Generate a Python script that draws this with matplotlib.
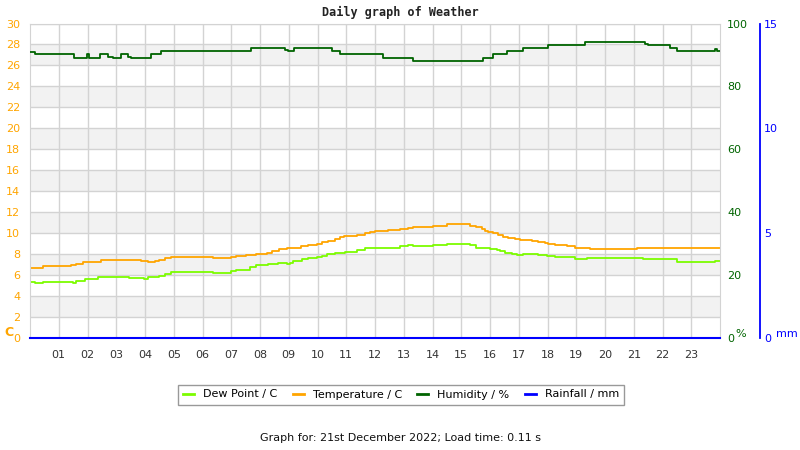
import matplotlib
matplotlib.use("Agg")
import matplotlib.pyplot as plt

# ---------------- data ----------------
temp_hours = [0.00, 0.45, 1.41, 1.61, 1.84, 2.48, 2.89, 3.87, 4.10, 4.34, 4.50, 4.68, 4.89,
              6.37, 7.00, 7.18, 7.52, 7.87, 8.23, 8.41, 8.66, 8.93, 9.04, 9.43, 9.68, 9.97,
              10.14, 10.38, 10.61, 10.78, 10.93, 11.36, 11.65, 11.83, 12.00, 12.46, 12.87,
              13.16, 13.33, 14.03, 14.49, 15.30, 15.53, 15.71, 15.83, 15.94, 16.12, 16.29,
              16.46, 16.64, 16.87, 17.05, 17.45, 17.68, 17.91, 18.03, 18.26, 18.67, 18.96,
              19.30, 19.48, 21.10, 21.33, 24.00]
temp_c = [6.70, 6.83, 6.95, 7.10, 7.24, 7.43, 7.46, 7.33, 7.24, 7.35, 7.47, 7.60, 7.69,
          7.62, 7.69, 7.80, 7.90, 8.03, 8.12, 8.29, 8.45, 8.54, 8.63, 8.73, 8.86, 8.95,
          9.11, 9.27, 9.49, 9.65, 9.74, 9.87, 10.00, 10.12, 10.19, 10.29, 10.44,
          10.50, 10.63, 10.73, 10.83, 10.73, 10.57, 10.40, 10.25, 10.12, 9.97, 9.81,
          9.68, 9.55, 9.43, 9.33, 9.24, 9.17, 9.05, 8.95, 8.86, 8.73, 8.63,
          8.54, 8.48, 8.54, 8.63, 8.63]

dew_hours = [0.00, 0.16, 0.45, 1.41, 1.49, 1.61, 1.90, 2.36, 2.48, 3.00, 3.46, 3.98, 4.12,
             4.50, 4.68, 4.89, 6.37, 7.00, 7.18, 7.64, 7.87, 8.00, 8.29, 8.64, 8.93, 9.04,
             9.16, 9.45, 9.68, 9.97, 10.14, 10.32, 10.61, 10.78, 10.96, 11.36, 11.65, 11.94,
             12.23, 12.46, 12.87, 13.16, 13.33, 14.03, 14.49, 15.30, 15.53, 15.83, 16.00,
             16.23, 16.35, 16.52, 16.75, 16.93, 17.16, 17.68, 17.97, 18.26, 18.96, 19.36,
             21.10, 21.33, 21.62, 22.26, 22.49, 23.83, 24.00]
dew_c = [5.30, 5.20, 5.30, 5.36, 5.20, 5.43, 5.62, 5.78, 5.84, 5.78, 5.71, 5.62, 5.78,
         5.94, 6.10, 6.32, 6.16, 6.35, 6.48, 6.76, 6.92, 6.95, 7.08, 7.17, 7.10, 7.20,
         7.37, 7.49, 7.62, 7.71, 7.84, 7.97, 8.13, 8.08, 8.16, 8.38, 8.54, 8.63,
         8.57, 8.63, 8.73, 8.83, 8.80, 8.83, 8.92, 8.83, 8.63, 8.63, 8.51,
         8.41, 8.29, 8.13, 8.03, 7.90, 8.00, 7.90, 7.78, 7.69, 7.56, 7.59,
         7.65, 7.52, 7.56, 7.52, 7.21, 7.30, 7.30]

hum_hours = [0.00, 0.16, 1.53, 1.98, 2.05, 2.42, 2.71, 2.88, 3.17, 3.40, 3.52, 4.21, 4.56,
             7.69, 8.87, 8.99, 9.19, 10.49, 10.78, 12.29, 13.33, 15.75, 16.12, 16.58,
             17.16, 18.03, 19.30, 21.39, 21.50, 22.26, 22.49, 23.83, 23.88, 24.00]
hum_pct = [91.0, 90.2, 88.9, 90.2, 88.9, 90.2, 89.5, 88.9, 90.2, 89.5, 88.9, 90.2, 91.2,
           92.2, 91.6, 91.2, 92.1, 91.2, 90.3, 88.9, 88.0, 89.0, 90.2, 91.2,
           92.1, 93.1, 94.0, 93.5, 93.2, 92.3, 91.3, 92.0, 91.3, 91.3]

rain_hours = [0.0, 24.0]
rain_mm = [0.0, 0.0]

hour_ticks = list(range(1, 24))
hour_labels = [f"{h:02d}" for h in hour_ticks]
temp_ticks = list(range(0, 31, 2))
hum_ticks = [0, 20, 40, 60, 80, 100]
rain_ticks = [0, 5, 10, 15]

# ---------------- styling ----------------
C_TEMP = "#ffa500"
C_DEW = "#7cfc00"
C_HUM = "#006400"
C_RAIN = "#0000ff"
GRID = "#d3d3d3"
plt.rcParams['font.family'] = ['DejaVu Sans']

fig = plt.figure(figsize=(8, 4.5), dpi=100)
ax = fig.add_axes([30 / 800, 1 - 338 / 450, 690 / 800, 314.5 / 450])
ax.set_xlim(0, 24)
ax.set_ylim(0, 30)

for lo in range(2, 30, 4):
    ax.axhspan(lo, lo + 2, color="#f2f2f2", zorder=0, lw=0)

ax.set_yticks(temp_ticks)
ax.set_xticks(hour_ticks)
ax.set_xticklabels(hour_labels)
ax.grid(True, color=GRID, lw=1, zorder=0.5)
ax.set_axisbelow(True)
ax.tick_params(axis='y', length=0, pad=7, labelsize=8, labelcolor=C_TEMP)
ax.tick_params(axis='x', length=0, pad=9, labelsize=8, labelcolor="#333333")
for s in ["left", "top", "right"]:
    ax.spines[s].set_color(GRID)
ax.spines["bottom"].set_visible(False)

l_dew, = ax.plot(dew_hours, dew_c, drawstyle="steps-post", color=C_DEW, lw=1.3, label="Dew Point / C")
l_temp, = ax.plot(temp_hours, temp_c, drawstyle="steps-post", color=C_TEMP, lw=1.3, label="Temperature / C")

ax_h = ax.twinx()
ax_h.set_ylim(0, 100)
ax_h.set_yticks(hum_ticks)
ax_h.tick_params(axis='y', length=0, pad=5, labelsize=8, labelcolor=C_HUM)
for s in ax_h.spines.values():
    s.set_visible(False)
l_hum, = ax_h.plot(hum_hours, hum_pct, drawstyle="steps-post", color=C_HUM, lw=1.3, label="Humidity / %")

ax_r = ax.twinx()
ax_r.set_ylim(0, 15)
ax_r.set_yticks(rain_ticks)
for s in ["left", "top", "bottom"]:
    ax_r.spines[s].set_visible(False)
ax_r.spines["right"].set_position(("axes", 730 / 690))
ax_r.spines["right"].set_color(C_RAIN)
ax_r.spines["right"].set_linewidth(1.3)
ax_r.tick_params(axis='y', length=0, pad=3, labelsize=8, labelcolor=C_RAIN)
l_rain, = ax_r.plot(rain_hours, rain_mm, color=C_RAIN, lw=1.5, clip_on=False, label="Rainfall / mm")

# unit labels
fig.text(4 / 800, 1 - 333 / 450, "C", color=C_TEMP, fontsize=9, fontweight="bold", va="center", ha="left")
fig.text(735 / 800, 1 - 334 / 450, "%", color=C_HUM, fontsize=8, va="center", ha="left")
fig.text(776 / 800, 1 - 334 / 450, "mm", color=C_RAIN, fontsize=8, va="center", ha="left")

fig.text(0.5, 1 - 12 / 450, "Daily graph of Weather", family="DejaVu Sans Mono",
         fontweight="bold", fontsize=8.5, ha="center", va="center", color="#222222")

leg = fig.legend(handles=[l_dew, l_temp, l_hum, l_rain], loc="center",
                 bbox_to_anchor=(401 / 800, 1 - 394.5 / 450), ncol=4, fontsize=8,
                 frameon=True, fancybox=False, edgecolor="#808080", handlelength=1.0,
                 handletextpad=0.8, columnspacing=1.4, borderpad=0.45)
leg.get_frame().set_linewidth(1.0)
for h in leg.legend_handles:
    h.set_linewidth(2)

fig.text(0.5, 1 - 438 / 450, "Graph for: 21st December 2022; Load time: 0.11 s",
         fontsize=8, ha="center", va="center", color="#111111")

fig.savefig("out.png", dpi=100)
